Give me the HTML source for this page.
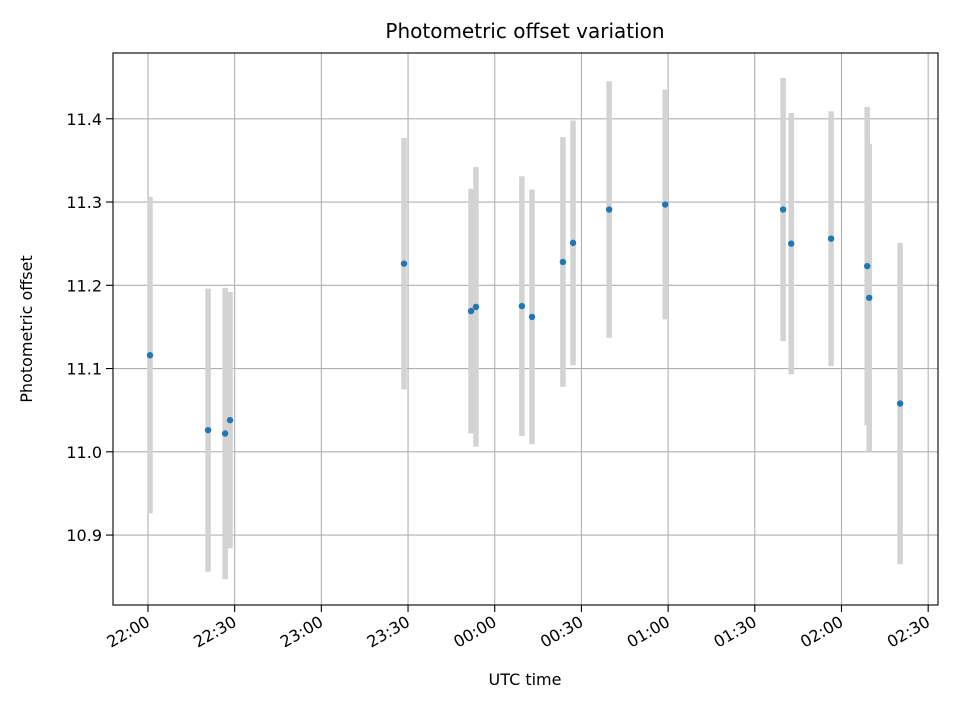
<!DOCTYPE html>
<html><head><meta charset="utf-8"><style>
body{margin:0;background:#fff}
svg{display:block;font-family:"DejaVu Sans","Liberation Sans",sans-serif}
</style></head><body>
<svg id="chart" width="960" height="720">
<text x="525" y="38" text-anchor="middle" font-size="20">Photometric offset variation</text>
<text x="525" y="685" text-anchor="middle" font-size="16">UTC time</text>
<text transform="translate(32,329) rotate(-90)" text-anchor="middle" font-size="16">Photometric offset</text>
<g id="grid"></g><g id="bars"></g><g id="pts"></g><g id="axes"></g>
</svg>
<script>
// minutes after 22:00 UTC
const times=[0.7,20.8,26.7,28.4,88.6,111.8,113.5,129.4,132.9,143.6,147.1,159.6,179,219.8,222.6,236.4,248.9,249.6,260.3];
const offsets=[11.116,11.026,11.022,11.038,11.226,11.169,11.174,11.175,11.162,11.228,11.251,11.291,11.297,11.291,11.25,11.256,11.223,11.185,11.058];
const errors=[0.19,0.17,0.175,0.154,0.151,0.147,0.168,0.156,0.153,0.15,0.147,0.154,0.138,0.158,0.157,0.153,0.191,0.185,0.193];
const xTickMinutes=[0,30,60,90,120,150,180,210,240,270];
const xTickLabels=["22:00","22:30","23:00","23:30","00:00","00:30","01:00","01:30","02:00","02:30"];
const yTicks=[10.9,11.0,11.1,11.2,11.3,11.4];
const L=113,R=938,T=53,B=605;
const xMin=-12.1,xMax=273.4,yMin=10.816,yMax=11.479;
const X=m=>L+(m-xMin)/(xMax-xMin)*(R-L);
const Y=v=>B-(v-yMin)/(yMax-yMin)*(B-T);
const NS="http://www.w3.org/2000/svg";
function mk(tag,attrs,parent){const e=document.createElementNS(NS,tag);for(const k in attrs)e.setAttribute(k,attrs[k]);document.getElementById(parent).appendChild(e);return e;}
xTickMinutes.forEach((m,i)=>{
  const x=X(m);
  let g=mk('line',{x1:x,x2:x,y1:T,y2:B,stroke:'#b0b0b0','stroke-width':1.1},'grid');
  
  let t=mk('line',{x1:x,x2:x,y1:B,y2:B+7,stroke:'#000','stroke-width':1.1},'axes');
  
  let lb=mk('text',{transform:`translate(${x+3},${B+20}) rotate(-30)`,'text-anchor':'end','font-size':16},'axes');
  lb.textContent=xTickLabels[i];
  
});
yTicks.forEach(v=>{
  const y=Y(v);
  let g=mk('line',{x1:L,x2:R,y1:y,y2:y,stroke:'#b0b0b0','stroke-width':1.1},'grid');
  
  let t=mk('line',{x1:L-7,x2:L,y1:y,y2:y,stroke:'#000','stroke-width':1.1},'axes');
  
  let lb=mk('text',{x:L-11,y:y+6,'text-anchor':'end','font-size':16},'axes');
  lb.textContent=v.toFixed(1);
  
});
times.forEach((m,i)=>{
  const x=X(m);
  let b=mk('line',{x1:x,x2:x,y1:Y(offsets[i]+errors[i]),y2:Y(offsets[i]-errors[i]),stroke:'#d3d3d3','stroke-width':5.5},'bars');
  
  let p=mk('circle',{cx:x,cy:Y(offsets[i]),r:3.2,fill:'#1f77b4'},'pts');
  
});
let fr=mk('rect',{x:L,y:T,width:R-L,height:B-T,fill:'none',stroke:'#000','stroke-width':1.1},'axes');

</script>
</body></html>
